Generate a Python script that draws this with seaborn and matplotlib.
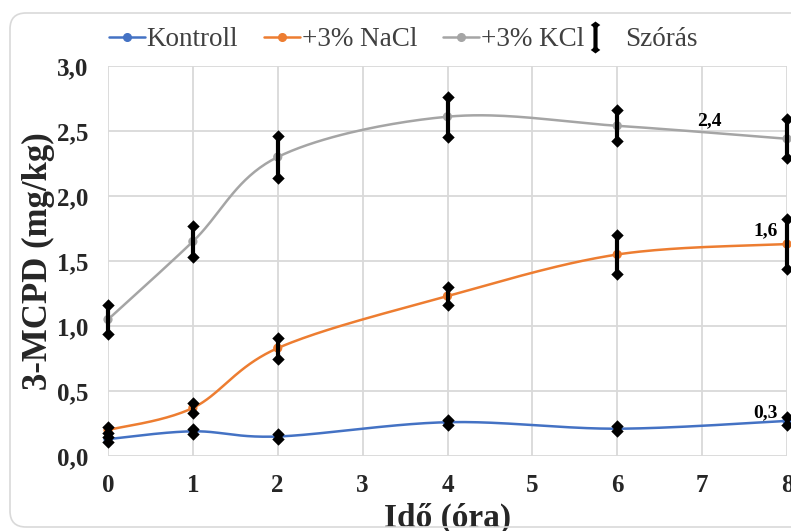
import numpy as np
import pandas as pd
import matplotlib
matplotlib.use("Agg")
import matplotlib.pyplot as plt
import seaborn as sns
from matplotlib.path import Path
from matplotlib.lines import Line2D
from matplotlib.patches import FancyBboxPatch
from matplotlib.transforms import IdentityTransform
from matplotlib.ticker import FuncFormatter

# ---------------- data ----------------
hours = [0, 1, 2, 4, 6, 8]
series_names = ["Kontroll", "+3% NaCl", "+3% KCl"]
kontroll = [0.13, 0.19, 0.15, 0.26, 0.21, 0.27]
nacl = [0.20, 0.37, 0.83, 1.23, 1.55, 1.63]
kcl = [1.05, 1.65, 2.30, 2.61, 2.54, 2.44]
kontroll_sd = [0.02, 0.02, 0.02, 0.02, 0.02, 0.03]
nacl_sd = [0.02, 0.04, 0.08, 0.07, 0.15, 0.19]
kcl_sd = [0.11, 0.12, 0.165, 0.155, 0.12, 0.15]
colors = ["#4472C4", "#ED7D31", "#A5A5A5"]
x_label = "Idő (óra)"
y_label = "3-MCPD (mg/kg)"
sd_label = "Szórás"

values = [kontroll, nacl, kcl]
sds = [kontroll_sd, nacl_sd, kcl_sd]

df = pd.DataFrame({
    "hour": hours * 3,
    "value": kontroll + nacl + kcl,
    "sd": kontroll_sd + nacl_sd + kcl_sd,
    "series": sum([[n] * len(hours) for n in series_names], []),
})

sns.set_theme(style="whitegrid")
plt.rcParams["font.family"] = ["Liberation Serif", "DejaVu Serif"]


def smooth(xs, ys, n=40):
    """Excel-like smoothed line (Catmull-Rom Bezier through the points)."""
    P = np.column_stack([xs, ys]).astype(float)
    ext = np.vstack([P[0], P, P[-1]])
    out = []
    t = np.linspace(0, 1, n)[:, None]
    for i in range(len(P) - 1):
        p0, p1, p2, p3 = ext[i], ext[i + 1], ext[i + 2], ext[i + 3]
        c1 = p1 + (p2 - p0) / 6.0
        c2 = p2 - (p3 - p1) / 6.0
        seg = ((1 - t) ** 3) * p1 + 3 * ((1 - t) ** 2) * t * c1 + 3 * (1 - t) * t ** 2 * c2 + t ** 3 * p2
        out.append(seg if i == 0 else seg[1:])
    out = np.vstack(out)
    return out[:, 0], out[:, 1]


fig = plt.figure(figsize=(7.91, 5.31), dpi=100)
ax = fig.add_axes([108 / 791, 75 / 531, 679 / 791, 390 / 531])

# rounded chart border
fig.patches.append(FancyBboxPatch((10, 4), 820, 514, boxstyle="round,pad=0,rounding_size=16",
                                  transform=IdentityTransform(), facecolor="none",
                                  edgecolor="#D9D9D9", linewidth=1.2, zorder=0))

for name, col, v, s in zip(series_names, colors, values, sds):
    sx, sy = smooth(hours, v)
    ax.plot(sx, sy, color=col, lw=1.8, zorder=3, clip_on=False)

sns.scatterplot(data=df, x="hour", y="value", hue="series", palette=colors, s=44,
                edgecolor=None, linewidth=0, legend=False, zorder=4, ax=ax, clip_on=False)

# error bars with diamond caps
for v, s in zip(values, sds):
    v = np.array(v); s = np.array(s)
    ax.errorbar(hours, v, yerr=s, fmt="none", ecolor="black", elinewidth=3.0, capsize=0,
                zorder=5, clip_on=False)
    ax.scatter(hours, v + s, marker="D", s=40, color="black", zorder=5, clip_on=False, linewidths=0)
    ax.scatter(hours, v - s, marker="D", s=40, color="black", zorder=5, clip_on=False, linewidths=0)

# data labels at the last point
label_offsets = [(-9, 0), (-9, 5), (-65, 10)]
for v, col, off in zip(values, colors, label_offsets):
    ax.annotate(f"{v[-1]:.1f}".replace(".", ","), xy=(hours[-1], v[-1]),
                xytext=(off[0] * 0.72, off[1] * 0.72), textcoords="offset points",
                ha="right", va="bottom", fontsize=14, fontweight="bold", color="black",
                annotation_clip=False)

ax.set_xlim(0, 8)
ax.set_ylim(0, 3.0)
ax.set_xticks(range(0, 9))
ax.set_yticks(np.arange(0, 3.01, 0.5))
ax.yaxis.set_major_formatter(FuncFormatter(lambda y, p: f"{y:.1f}".replace(".", ",")))
ax.tick_params(axis="both", labelsize=18, length=0)
ax.tick_params(axis="y", pad=14)
ax.tick_params(axis="x", pad=13)
for lab in ax.get_xticklabels() + ax.get_yticklabels():
    lab.set_fontweight("bold")
ax.grid(True, color="#D9D9D9", lw=1.3)
for sp in ax.spines.values():
    sp.set_visible(False)
ax.set_facecolor("white")

ax.set_xlabel(x_label, fontsize=24, fontweight="bold")
ax.set_ylabel(y_label, fontsize=25, fontweight="bold")
ax.xaxis.set_label_coords(0.5, -0.12)
ax.yaxis.set_label_coords(-0.078, 0.5)

# legend: series entries
handles = [Line2D([], [], color=c, lw=1.8, marker="o", markersize=5.5) for c in colors]
leg1 = fig.legend(handles, series_names, loc="center", ncol=3,
                  bbox_to_anchor=(346.5 / 791, 1 - 40 / 531), frameon=False, fontsize=19.5,
                  handlelength=1.33, handletextpad=0.07, columnspacing=0.95,
                  borderaxespad=0, borderpad=0)
for t in leg1.get_texts():
    t.set_color("#404040")

# legend: standard deviation entry
sd_path = Path(
    [(0, 1.0), (0.3, 0.78), (0, 0.56), (-0.3, 0.78), (0, 1.0),
     (0.13, 0.8), (0.13, -0.8), (-0.13, -0.8), (-0.13, 0.8), (0.13, 0.8),
     (0, -0.56), (0.3, -0.78), (0, -1.0), (-0.3, -0.78), (0, -0.56)],
    [Path.MOVETO, Path.LINETO, Path.LINETO, Path.LINETO, Path.CLOSEPOLY,
     Path.MOVETO, Path.LINETO, Path.LINETO, Path.LINETO, Path.CLOSEPOLY,
     Path.MOVETO, Path.LINETO, Path.LINETO, Path.LINETO, Path.CLOSEPOLY])
sd_handle = Line2D([], [], linestyle="none", marker=sd_path, markersize=23,
                   color="black", markeredgewidth=0)
leg2 = fig.legend([sd_handle], [sd_label], loc="center left",
                  bbox_to_anchor=(585 / 791, 1 - 40 / 531), frameon=False, fontsize=19.5,
                  handlelength=0.74, handletextpad=0.74, borderaxespad=0, borderpad=0)
for t in leg2.get_texts():
    t.set_color("#404040")

fig.savefig("out.png", dpi=100, facecolor="white")
